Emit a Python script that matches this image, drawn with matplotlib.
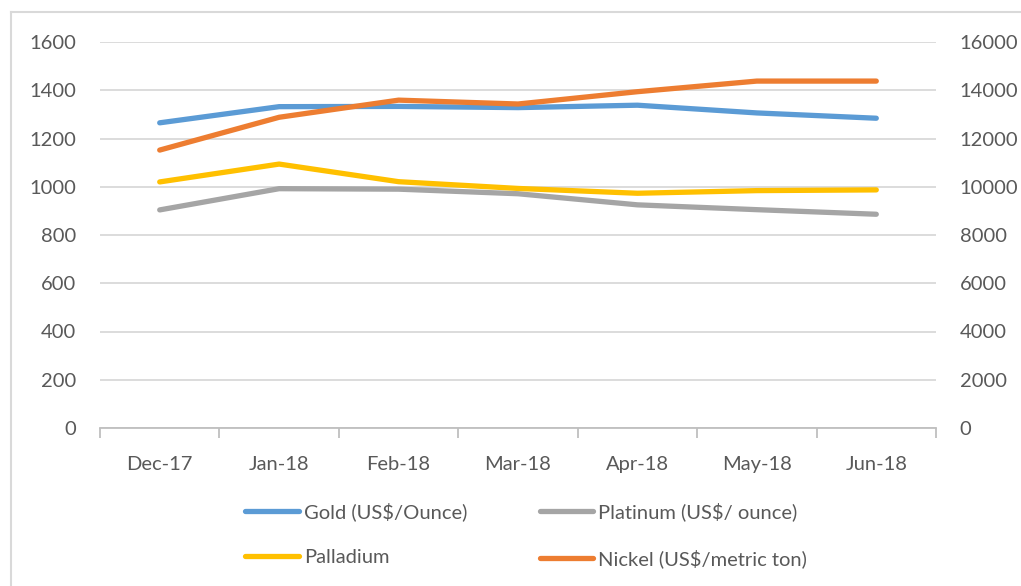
import matplotlib.pyplot as plt
from matplotlib.lines import Line2D
import numpy as np

months = ["Dec-17", "Jan-18", "Feb-18", "Mar-18", "Apr-18", "May-18", "Jun-18"]
gold = [1265, 1332, 1333, 1328, 1338, 1306, 1284]
platinum = [904, 992, 990, 971, 925, 905, 886]
palladium = [1020, 1094, 1021, 993, 973, 984, 987]
nickel = [11520, 12880, 13590, 13430, 13940, 14380, 14380]

plt.rcParams['font.family'] = ['Lato', 'DejaVu Sans']
txt = '#595959'
fs = 14.5

fig = plt.figure(figsize=(10.21, 5.86), dpi=100)
ax = fig.add_axes([100 / 1021, 1 - 428 / 586, 836 / 1021, 386 / 586])
ax2 = ax.twinx()

x = np.arange(len(months))
lw = 3.8
l1, = ax.plot(x, gold, color='#5B9BD5', lw=lw, solid_capstyle='round', label='Gold (US$/Ounce)')
l2, = ax.plot(x, platinum, color='#A5A5A5', lw=lw, solid_capstyle='round', label='Platinum (US$/ ounce)')
l3, = ax.plot(x, palladium, color='#FFC000', lw=lw, solid_capstyle='round', label='Palladium')
l4, = ax2.plot(x, nickel, color='#ED7D31', lw=lw, solid_capstyle='round', label='Nickel (US$/metric ton)')

ax.set_xlim(-0.5, len(months) - 0.5)
ax.set_ylim(0, 1600)
ax2.set_ylim(0, 16000)
ax.set_yticks(range(0, 1601, 200))
ax2.set_yticks(range(0, 16001, 2000))
ax.grid(axis='y', color='#d9d9d9', lw=1.3)
ax.set_axisbelow(True)

for a in (ax, ax2):
    for s in a.spines.values():
        s.set_visible(False)
ax.spines['bottom'].set_visible(True)
ax.spines['bottom'].set_color('#bfbfbf')
ax.spines['bottom'].set_linewidth(1.3)

ax.set_xticks(x)
ax.set_xticklabels(months)
ax.set_xticks(np.arange(-0.5, len(months)), minor=True)
ax.tick_params(axis='x', which='major', length=0, pad=20, labelsize=fs, labelcolor=txt)
ax.tick_params(axis='x', which='minor', length=7, width=1.3, color='#bfbfbf')
ax.tick_params(axis='y', length=0, pad=17, labelsize=fs, labelcolor=txt)
ax2.tick_params(axis='y', length=0, pad=17, labelsize=fs, labelcolor=txt)

# legend entries go column-wise, so order them to read Gold/Platinum on the first row
fig.legend([l1, l3, l2, l4], [l1.get_label(), l3.get_label(), l2.get_label(), l4.get_label()],
           loc='center', bbox_to_anchor=(526 / 1021, 1 - 535 / 586), ncol=2, frameon=False,
           fontsize=fs, labelcolor=txt, handlelength=2.65, handletextpad=0.25,
           columnspacing=3.6, labelspacing=1.4)

# thin chart border along the top and left
fig.add_artist(Line2D([11 / 1021, 1], [1 - 12 / 586] * 2, color='#d9d9d9', lw=1.5, transform=fig.transFigure))
fig.add_artist(Line2D([11 / 1021] * 2, [0, 1 - 12 / 586], color='#d9d9d9', lw=1.5, transform=fig.transFigure))

fig.savefig('out.png', dpi=100)
